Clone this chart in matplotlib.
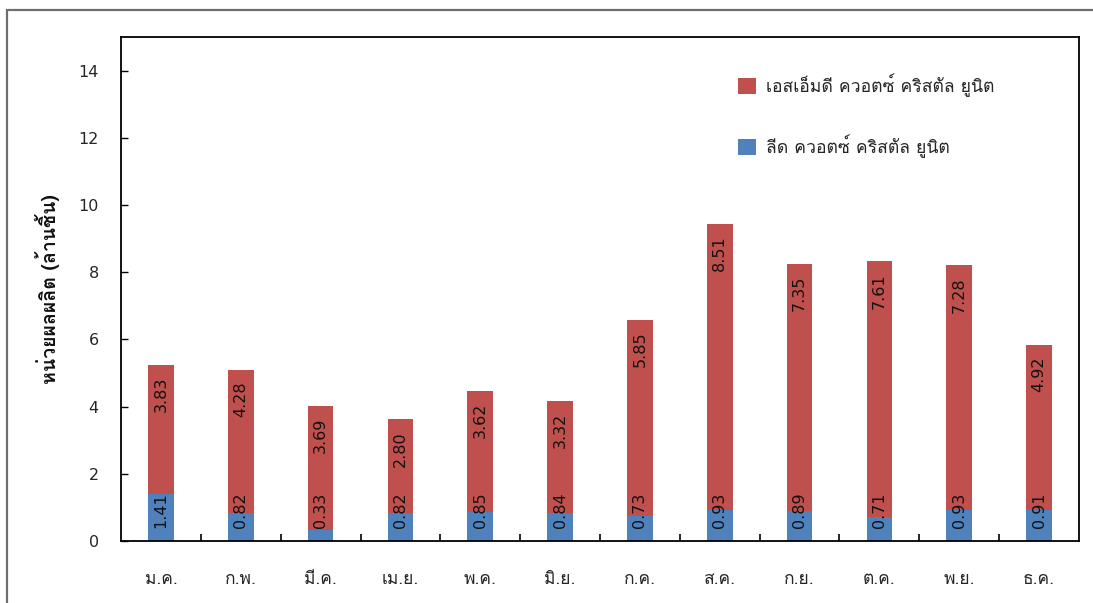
import matplotlib
matplotlib.use("Agg")
import matplotlib.pyplot as plt
from matplotlib.patches import Rectangle
import numpy as np

# Thai text in Loma, numbers in DejaVu Sans
plt.rcParams['font.family'] = ['Loma', 'DejaVu Sans']
num_font = 'DejaVu Sans'

# Monthly output, million pieces
months = ['ม.ค.', 'ก.พ.', 'มี.ค.', 'เม.ย.', 'พ.ค.', 'มิ.ย.',
          'ก.ค.', 'ส.ค.', 'ก.ย.', 'ต.ค.', 'พ.ย.', 'ธ.ค.']
led_units = [1.41, 0.82, 0.33, 0.82, 0.85, 0.84, 0.73, 0.93, 0.89, 0.71, 0.93, 0.91]
smd_units = [3.83, 4.28, 3.69, 2.80, 3.62, 3.32, 5.85, 8.51, 7.35, 7.61, 7.28, 4.92]
led_name = 'ลีด ควอตซ์ คริสตัล ยูนิต'
smd_name = 'เอสเอ็มดี ควอตซ์ คริสตัล ยูนิต'
y_label = 'หน่วยผลผลิต (ล้านชิ้น)'

blue = '#4F81BD'
red = '#C0504D'
text_col = '#262626'

fig = plt.figure(figsize=(10.93, 6.03), dpi=100)
ax = fig.add_axes([121 / 1093, 62 / 603, 958 / 1093, 504 / 603])

x = np.arange(len(months))
w = 0.32
b1 = ax.bar(x, led_units, w, color=blue, label=led_name, zorder=2)
b2 = ax.bar(x, smd_units, w, bottom=led_units, color=red, label=smd_name, zorder=2)

# value labels, rotated inside each segment
for i in range(len(months)):
    ax.annotate(f'{led_units[i]:.2f}', (x[i], 0), xytext=(0, 9.5),
                textcoords='offset points', rotation=90, ha='center',
                va='bottom', fontsize=11.5, color='#111111', family=num_font)
    top = led_units[i] + smd_units[i]
    ax.annotate(f'{smd_units[i]:.2f}', (x[i], top), xytext=(0, -8.5),
                textcoords='offset points', rotation=90, ha='center',
                va='top', fontsize=11.5, color='#111111', family=num_font)

ax.set_xlim(-0.5, len(months) - 0.5)
ax.set_ylim(0, 15)
ax.set_yticks(range(0, 15, 2))
ax.set_yticklabels([str(v) for v in range(0, 15, 2)], family=num_font)
ax.set_xticks(x)
ax.set_xticklabels(months)
ax.set_xticks(x[:-1] + 0.5, minor=True)
ax.tick_params(axis='x', which='major', length=0, pad=22.5, labelsize=12.5, colors=text_col)
ax.tick_params(axis='x', which='minor', direction='in', length=5, width=1.2)
ax.tick_params(axis='y', direction='in', length=5, width=1, pad=16, labelsize=11.5,
               labelcolor=text_col)
for s in ax.spines.values():
    s.set_linewidth(1.3)
    s.set_color('black')

ax.set_ylabel(y_label, fontsize=14, fontweight='bold', labelpad=13, color='#111111')

handles = [b2, b1]
ax.legend(handles, [smd_name, led_name], loc='upper left',
          bbox_to_anchor=(738 / 1093, 1 - 73 / 603), bbox_transform=fig.transFigure,
          frameon=False, fontsize=12.7, handlelength=1.0, handleheight=1.0,
          handletextpad=0.6, labelspacing=2.12, borderpad=0, borderaxespad=0,
          labelcolor=text_col)

# outer chart border
fig.patches.append(Rectangle((7 / 1093, -0.1), 1.2, 0.1 + (1 - 10 / 603),
                             transform=fig.transFigure, fill=False,
                             edgecolor='#6e6e6e', linewidth=1.6))

fig.savefig('out.png', dpi=100)
